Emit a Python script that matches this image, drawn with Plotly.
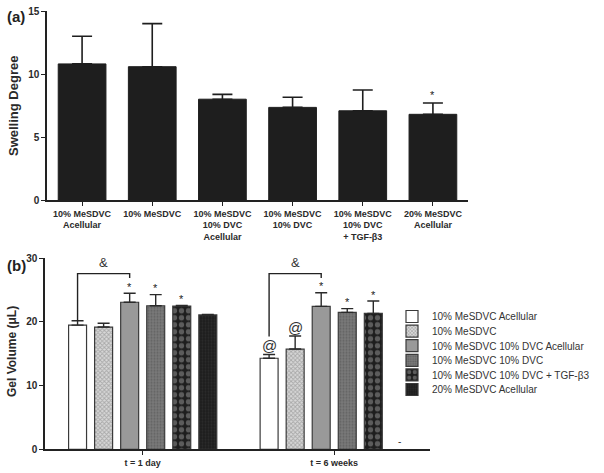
import plotly.graph_objects as go

# ---------- data ----------
cats_a = ["10% MeSDVC<br>Acellular", "10% MeSDVC", "10% MeSDVC<br>10% DVC<br>Acellular",
          "10% MeSDVC<br>10% DVC", "10% MeSDVC<br>10% DVC<br>+ TGF-β3", "20% MeSDVC<br>Acellular"]
swell_mean = [10.8, 10.58, 8.0, 7.35, 7.08, 6.8]
swell_err = [2.2, 3.42, 0.38, 0.8, 1.65, 0.9]
star_a = [False, False, False, False, False, True]
ticks_a = [0, 5, 10, 15]

groups_b = ["t = 1 day", "t = 6 weeks"]
series_b = ["10% MeSDVC Acellular", "10% MeSDVC", "10% MeSDVC 10% DVC Acellular",
            "10% MeSDVC 10% DVC", "10% MeSDVC 10% DVC + TGF-β3", "20% MeSDVC Acellular"]
gel_mean = [[19.5, 14.3], [19.2, 15.75], [23.1, 22.45], [22.55, 21.5], [22.5, 21.35], [21.1, None]]
gel_err = [[0.7, 0.6], [0.6, 2.05], [1.4, 2.15], [1.75, 0.6], [0.1, 1.95], [0.1, 0]]
stars_b = [[False, False], [False, False], [True, True], [True, True], [True, True], [False, False]]
at_b = [[False, True], [False, True], [False, False], [False, False], [False, False], [False, False]]
ticks_b = [0, 10, 20, 30]

# ---------- style ----------
FONT = "Liberation Sans, Arial, sans-serif"
W, H = 604, 473
TXT = "#2a2a2a"
styles = [
    dict(color="white", pattern=None),
    dict(color="white", pattern=dict(shape="x", fgcolor="#7a7a7a", bgcolor="#d8d8d8", size=3, solidity=0.5)),
    dict(color="#999999", pattern=None),
    dict(color="#6a6a6a", pattern=dict(shape=".", fgcolor="#4a4a4a", bgcolor="#7a7a7a", size=3, solidity=0.4)),
    dict(color="#222222", pattern=dict(shape=".", fgcolor="#9a9a9a", bgcolor="#1e1e1e", size=7, solidity=0.45)),
    dict(color="#222222", pattern=dict(shape=".", fgcolor="#3a3a3a", bgcolor="#1e1e1e", size=3, solidity=0.3)),
]

fig = go.Figure()

# panel (a)
xa = list(range(len(cats_a)))
fig.add_trace(go.Bar(
    x=xa, y=swell_mean, width=0.68, xaxis="x", yaxis="y",
    marker=dict(color="#1e1e1e", line=dict(color="#1e1e1e", width=1)),
    error_y=dict(type="data", array=swell_err, arrayminus=[0]*6, symmetric=False,
                 color="#1e1e1e", thickness=1.6, width=10),
    showlegend=False, hoverinfo="skip"))

# panel (b)
n = len(series_b)
bargap, bargroupgap = 0.184, 0.31
slot = (1 - bargap) / n
leg_top = 302
leg_step = 14.6
legends = {}
for i, name in enumerate(series_b):
    st = styles[i]
    mk = dict(color=st["color"], line=dict(color="#3a3a3a", width=1.2))
    if st["pattern"]:
        mk["pattern"] = st["pattern"]
    lg = "legend" if i == 0 else f"legend{i+1}"
    fig.add_trace(go.Bar(
        x=[0, 1], y=gel_mean[i], name=name, xaxis="x2", yaxis="y2", legend=lg,
        marker=mk,
        error_y=dict(type="data", array=gel_err[i], arrayminus=[0, 0], symmetric=False,
                     color="#2a2a2a", thickness=1.4, width=6),
        hoverinfo="skip"))
    legends[lg] = dict(x=392 / W, y=1 - (leg_top + i * leg_step) / H, xanchor="left", yanchor="top",
                       font=dict(size=10, color="#333", family=FONT), bgcolor="rgba(0,0,0,0)",
                       itemwidth=30)

annotations = []
shapes = []

# stars panel a
for k, s in enumerate(star_a):
    if s:
        annotations.append(dict(x=xa[k], y=swell_mean[k] + swell_err[k] + 0.6, xref="x", yref="y",
                                text="*", showarrow=False, font=dict(size=11, color="#222", family=FONT)))

def bx(g, i):
    return g - (1 - bargap) / 2 + slot * (i + 0.5)

for i in range(n):
    for g in range(2):
        v = gel_mean[i][g]
        if v is None:
            continue
        top = v + gel_err[i][g]
        if stars_b[i][g]:
            annotations.append(dict(x=bx(g, i), y=top + 1.0, xref="x2", yref="y2", text="*",
                                    showarrow=False, font=dict(size=11, color="#222", family=FONT)))
        if at_b[i][g]:
            annotations.append(dict(x=bx(g, i), y=top + 1.4, xref="x2", yref="y2", text="@",
                                    showarrow=False, font=dict(size=15, color="#333", family=FONT)))

# missing bar marker
annotations.append(dict(x=bx(1, 5), y=1.3, xref="x2", yref="y2", text="-", showarrow=False,
                        font=dict(size=10, color="#333", family=FONT)))

# brackets
br_y = 27.6
for g in range(2):
    x0, x1 = bx(g, 0), bx(g, 2)
    left_end = gel_mean[0][g] + gel_err[0][g] + (0 if g == 0 else 2.8)
    path = f"M {x0},{left_end} L {x0},{br_y} L {x1},{br_y} L {x1},{br_y-0.7}"
    shapes.append(dict(type="path", path=path, xref="x2", yref="y2",
                       line=dict(color="#222", width=1.4)))
    annotations.append(dict(x=(x0 + x1) / 2, y=br_y + 0.3, xref="x2", yref="y2", text="&",
                            showarrow=False, yanchor="bottom",
                            font=dict(size=13, color="#333", family=FONT)))

annotations.append(dict(x=5 / W, y=1 - 17 / H, xref="paper", yref="paper", text="<b>(a)</b>",
                        showarrow=False, xanchor="left", yanchor="middle",
                        font=dict(size=15, color="#222", family=FONT)))
annotations.append(dict(x=5 / W, y=1 - 265 / H, xref="paper", yref="paper", text="<b>(b)</b>",
                        showarrow=False, xanchor="left", yanchor="middle",
                        font=dict(size=15, color="#222", family=FONT)))
# y axis titles
annotations.append(dict(x=14 / W, y=1 - 106 / H, xref="paper", yref="paper",
                        text="<b>Swelling Degree</b>", textangle=-90, showarrow=False,
                        xanchor="center", yanchor="middle",
                        font=dict(size=13, color=TXT, family=FONT)))
annotations.append(dict(x=12 / W, y=1 - 352 / H, xref="paper", yref="paper",
                        text="<b>Gel Volume (μL)</b>", textangle=-90, showarrow=False,
                        xanchor="center", yanchor="middle",
                        font=dict(size=12, color=TXT, family=FONT)))

axis_common = dict(showline=True, linecolor="#222", linewidth=1.5, ticks="outside", ticklen=4,
                   tickcolor="#222", tickwidth=1.2, showgrid=False, zeroline=False, automargin=False)

fig.update_layout(
    width=W, height=H, margin=dict(l=0, r=0, t=0, b=0),
    paper_bgcolor="white", plot_bgcolor="white",
    barmode="group", bargap=bargap, bargroupgap=bargroupgap,
    font=dict(family=FONT, color="#333"),
    xaxis=dict(domain=[47 / W, 468 / W], anchor="y", range=[-0.5, 5.5],
               tickmode="array", tickvals=xa, ticktext=[f"<b>{c}</b>" for c in cats_a],
               tickfont=dict(size=9, color=TXT, family=FONT), **axis_common),
    yaxis=dict(domain=[1 - 200 / H, 1 - 11 / H], anchor="x", range=[0, 15],
               tickmode="array", tickvals=ticks_a, ticktext=[f"<b>{t}</b>" for t in ticks_a],
               tickfont=dict(size=10, color=TXT, family=FONT), **axis_common),
    xaxis2=dict(domain=[45 / W, 430 / W], anchor="y2", range=[-0.51, 1.5],
                tickmode="array", tickvals=[0, 1], ticktext=[f"<b>{g}</b>" for g in groups_b],
                tickfont=dict(size=9, color=TXT, family=FONT), **axis_common),
    yaxis2=dict(domain=[1 - 449.3 / H, 1 - 258.3 / H], anchor="x2", range=[0, 30],
                tickmode="array", tickvals=ticks_b, ticktext=[f"<b>{t}</b>" for t in ticks_b],
                tickfont=dict(size=10, color=TXT, family=FONT), **axis_common),
    annotations=annotations, shapes=shapes,
    **legends,
)

fig.write_html("out.html", config={"displayModeBar": False},
               post_script="document.body.style.margin='0';document.body.style.overflow='hidden';")
